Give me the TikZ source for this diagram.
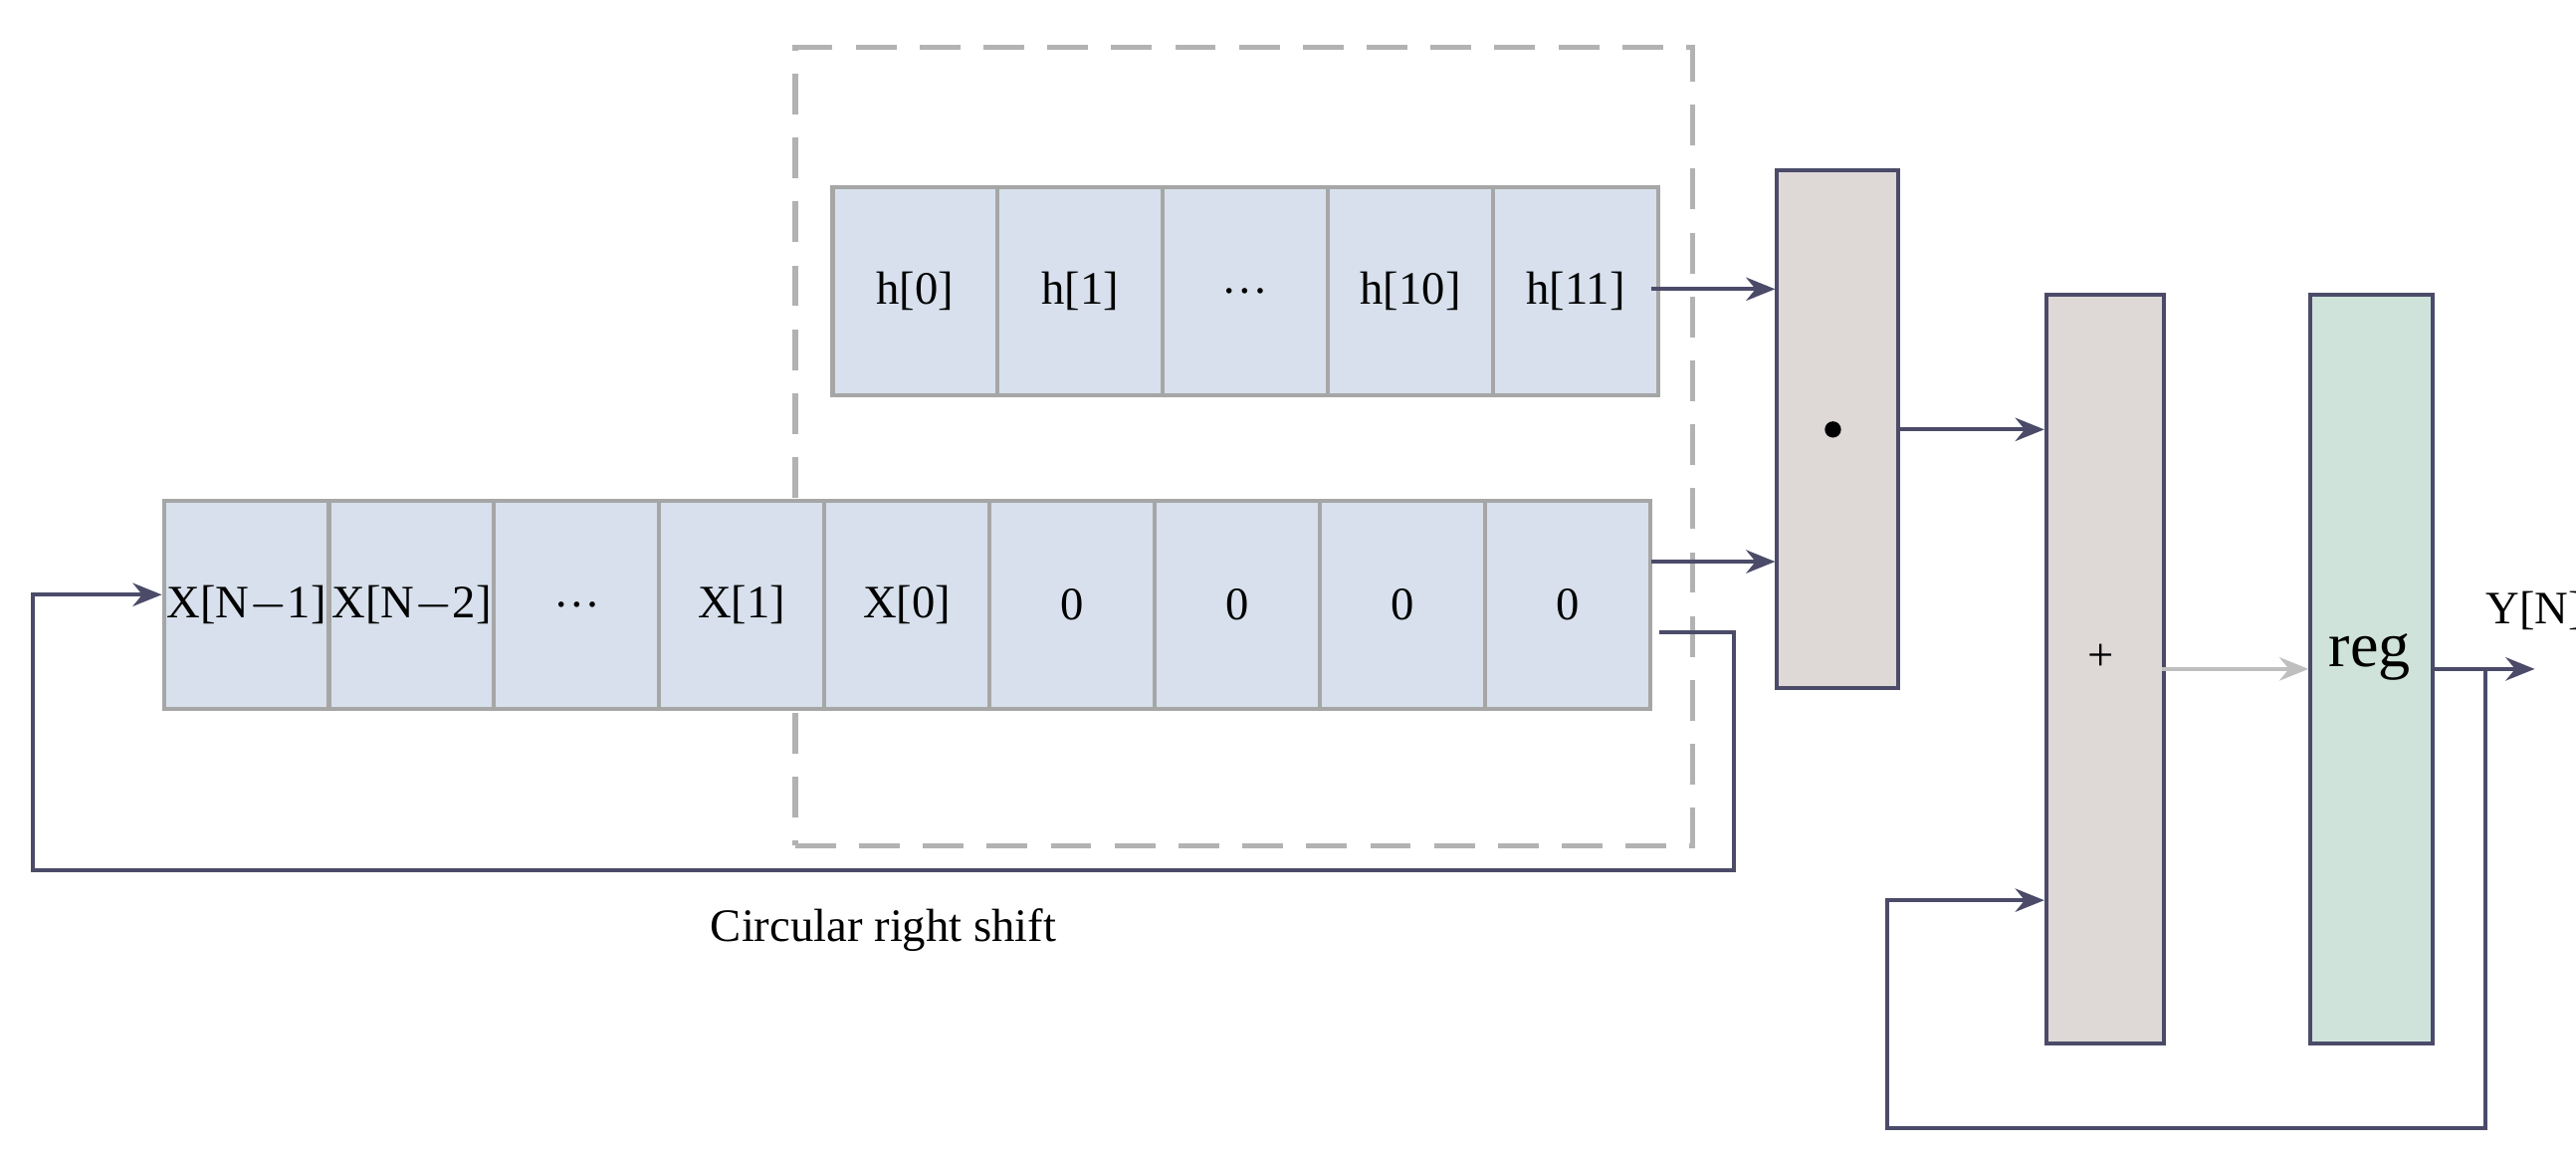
\documentclass[tikz,border=0pt]{standalone}
\usepackage{fontspec}
\setmainfont{Liberation Serif}
\usetikzlibrary{arrows.meta}
\definecolor{cellb}{RGB}{215,224,236}
\definecolor{opf}{RGB}{222,216,214}
\definecolor{regf}{RGB}{207,227,218}
\definecolor{ln}{RGB}{75,75,105}
\begin{document}
\begin{tikzpicture}[x=0.01cm,y=-0.01cm,
 cell/.style={draw=gray!70,fill=cellb,line width=0.7pt,minimum width=1cm,minimum height=1.26cm,inner sep=0,font=\fontsize{8}{10}\selectfont,anchor=north west},
 op/.style={draw=ln,fill=opf,line width=0.7pt,inner sep=0,anchor=north west},
 arr/.style={draw=ln,line width=0.7pt,-{Stealth[length=5pt,width=4pt]}},
 ln/.style={draw=ln,line width=0.7pt}]
\useasboundingbox (0,0) rectangle (1560,700);
\node[draw=gray!60,line width=0.9pt,minimum width=5.43cm,minimum height=4.83cm,anchor=north west,dash pattern=on 7pt off 4pt] (dash) at (480,27) {};
\foreach \t [count=\i from 0] in {h[0],h[1],\dots,h[10],h[11]}
  \node[cell] (h\i) at (503+\i*100,112) {\t};
\foreach \t [count=\i from 0] in {X[N$-$1],X[N$-$2],\dots,X[1],X[0],0,0,0,0}
  \node[cell] (x\i) at (98+\i*100,302) {\t};
\node[op,minimum width=0.73cm,minimum height=3.13cm] (mul) at (1075,102) {};
\fill (1110,260) circle (1.4pt);
\node[op,minimum width=0.71cm,minimum height=4.53cm] (add) at (1238,177) {};
\node[font=\fontsize{8}{10}\selectfont] at (1272,398) {+};
\node[op,fill=regf,minimum width=0.74cm,minimum height=4.53cm] (reg) at (1398,177) {};
\node[font=\fontsize{11}{12}\selectfont] at (1435,398) {reg};
\coordinate (hm) at (1075,175); \coordinate (xm) at (1075,340);
\draw[arr] (1000,175) -- (hm);
\draw[arr] (1000,340) -- (xm);
\draw[arr] (1148,260) -- (1238,260);
\draw[arr,draw=gray!50] (1309,405) -- (1398,405);
\coordinate (yo) at (1535,405);
\draw[arr] (1472,405) -- (yo);
\node[font=\fontsize{8}{10}\selectfont] at (1535,370) {Y[N]};
\draw[arr] (1505,405) -- (1505,683) -- (1143,683) -- (1143,545) -- (1238,545);
\draw[arr] (1005,383) -- (1050,383) -- (1050,527) -- (20,527) -- (20,360) -- (98,360);
\node[font=\fontsize{8}{10}\selectfont] at (535,563) {Circular right shift};
\end{tikzpicture}
\end{document}
